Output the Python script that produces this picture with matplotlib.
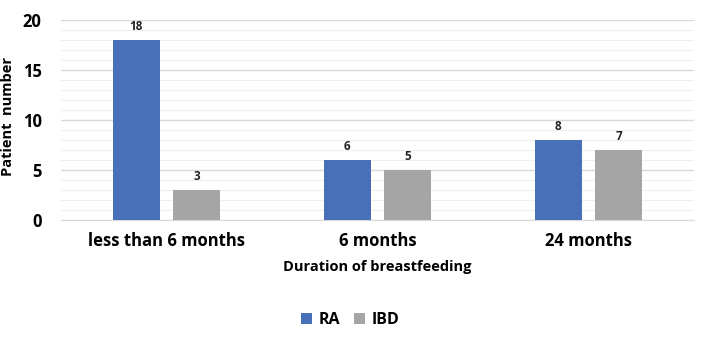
import matplotlib.pyplot as plt
import numpy as np

categories = ['less than 6 months', '6 months', '24 months']
ra = [18, 6, 8]
ibd = [3, 5, 7]

plt.rcParams['font.family'] = ['Open Sans', 'DejaVu Sans']

fig = plt.figure(figsize=(7.25, 3.38), dpi=100)
ax = fig.add_axes([61 / 725, 1 - 220 / 338, 633 / 725, 200 / 338])

x = np.arange(len(categories))
w = 0.222
off = 0.143
b1 = ax.bar(x - off, ra, w, color='#4870B8', label='RA', zorder=3)
b2 = ax.bar(x + off, ibd, w, color='#A5A5A5', label='IBD', zorder=3)

# value labels above each bar
for bars in (b1, b2):
    for r in bars:
        ax.text(r.get_x() + r.get_width() / 2, r.get_height() + 0.7, str(int(r.get_height())),
                ha='center', va='bottom', fontsize=8.5, fontweight='bold', color='#222222')

ax.set_xlim(-0.5, 2.5)
ax.set_ylim(0, 20)
ax.set_yticks([0, 5, 10, 15, 20])
ax.set_yticks(np.arange(0, 21, 1), minor=True)
ax.grid(axis='y', which='major', color='#d9d9d9', linewidth=1, zorder=0)
ax.grid(axis='y', which='minor', color='#efefef', linewidth=0.8, zorder=0)
ax.tick_params(axis='y', which='both', length=0, labelsize=12, pad=14)
ax.tick_params(axis='x', length=0, labelsize=12, pad=9)
for lab in ax.get_yticklabels() + ax.get_xticklabels():
    lab.set_fontweight('bold')
ax.set_xticks(x)
ax.set_xticklabels(categories)

for s in ['top', 'right', 'left']:
    ax.spines[s].set_visible(False)
ax.spines['bottom'].set_color('#d9d9d9')

fig.text(8 / 725, 1 - 117 / 338, 'Patient  number', rotation=90, ha='center', va='center',
         fontsize=10.5, fontweight='bold')
ax.set_xlabel('Duration of breastfeeding', fontsize=10.5, fontweight='bold', labelpad=7)

fig.legend(handles=[b1, b2], loc='center', bbox_to_anchor=(350 / 725, 1 - 320 / 338), ncol=2,
           frameon=False, prop={'weight': 'bold', 'size': 11.5}, handlelength=0.7, handleheight=0.7,
           handletextpad=0.4, columnspacing=0.9)

fig.savefig('out.png', dpi=100)
